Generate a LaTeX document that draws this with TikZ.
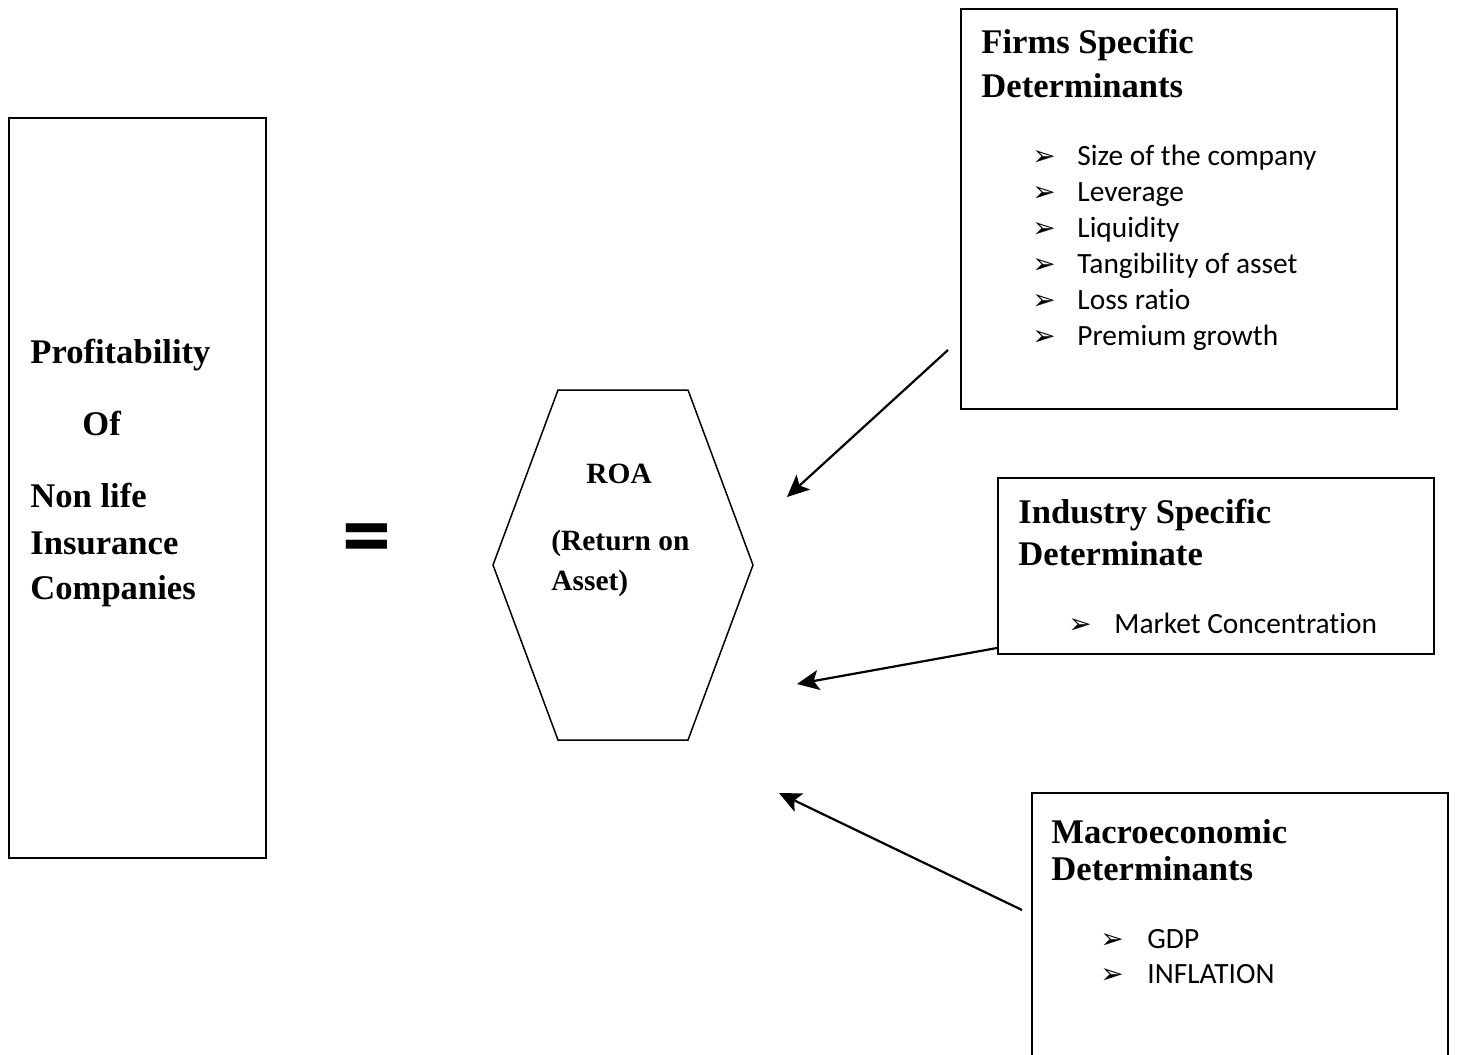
\documentclass[tikz,border=0pt]{standalone}
\usepackage{fontspec}
\setmainfont{Liberation Serif}
\newfontfamily\calfont{Carlito}[RawFeature={-liga}]
\newfontfamily\dvfont{DejaVu Sans}
\usetikzlibrary{arrows.meta}
\tikzset{
  heading/.style={font=\bfseries\fontsize{17.3}{22}\selectfont, anchor=base west, inner sep=0pt},
  lefttext/.style={font=\bfseries\fontsize{17.3}{22}\selectfont, anchor=base west, inner sep=0pt},
  roatext/.style={font=\bfseries\fontsize{14.7}{18}\selectfont, anchor=base west, inner sep=0pt},
  itemtext/.style={font=\calfont\fontsize{14.7}{18}\selectfont, anchor=base west, inner sep=0pt},
  bul/.style={font=\dvfont\fontsize{14}{16}\selectfont, anchor=base west, inner sep=0pt},
  frame/.style={draw, line width=1pt, anchor=north west, inner sep=0pt},
  conn/.style={line width=1.1pt, -{Stealth[length=11pt, width=10pt, inset=2.5pt]}}
}
\begin{document}
\begin{tikzpicture}[x=0.5pt, y=-0.5pt]
\useasboundingbox (0,0) rectangle (1457,1055);
% left box
\node[frame, minimum width=128.5pt, minimum height=370pt] (left) at (8,117) {};
\node[lefttext] (t1) at (30,363) {Profitability};
\node[lefttext] (t2) at (82,435) {Of};
\node[lefttext] (t3) at (30,507) {Non life};
\node[lefttext] (t4) at (30,554) {Insurance};
\node[lefttext] (t5) at (30,599) {Companies};
% equals
\node[font=\calfont\bfseries\fontsize{49}{49}\selectfont, inner sep=0pt] (eq) at (367,546) {=};
% hexagon
\coordinate (h1) at (558,390);
\coordinate (h2) at (688,390);
\coordinate (h3) at (753,565);
\coordinate (h4) at (688,740);
\coordinate (h5) at (558,740);
\coordinate (h6) at (493,565);
\draw[line width=0.75pt] (h1) -- (h2) -- (h3) -- (h4) -- (h5) -- (h6) -- cycle;
\node[roatext] (roa) at (586,483) {ROA};
\node[roatext] (roa2) at (551,550) {(Return on};
\node[roatext] (roa3) at (551,590) {Asset)};
% firms box
\node[frame, minimum width=218pt, minimum height=200pt] (firms) at (960,8) {};
\node[heading] (f1) at (981,53) {Firms Specific};
\node[heading] (f2) at (981,97) {Determinants};
\foreach \y/\t [count=\i] in {165/Size of the company,201/Leverage,237/Liquidity,273/Tangibility of asset,309/Loss ratio,345/Premium growth}{
  \node[bul] (fb\i) at (1032,\y) {➢};
  \node[itemtext] (fi\i) at (1077,\y) {\t};
}
% industry box
\node[frame, minimum width=218pt, minimum height=88pt] (ind) at (997,477) {};
\node[heading] (i1) at (1018,523) {Industry Specific};
\node[heading] (i2) at (1018,565) {Determinate};
\node[bul] (ib1) at (1068,633) {➢};
\node[itemtext] (ii1) at (1114,633) {Market Concentration};
% macro box
\node[frame, minimum width=208pt, minimum height=150pt] (mac) at (1031,792) {};
\node[heading] (m1) at (1051,843) {Macroeconomic};
\node[heading] (m2) at (1051,880) {Determinants};
\node[bul] (mb1) at (1100,948) {➢};
\node[itemtext] (mi1) at (1147,948) {GDP};
\node[bul] (mb2) at (1100,983) {➢};
\node[itemtext] (mi2) at (1147,983) {INFLATION};
% connectors
\coordinate (a1s) at (948,350);
\coordinate (a1e) at (787,497);
\coordinate (a2s) at (997,648);
\coordinate (a2e) at (797,684);
\coordinate (a3s) at (1022,910);
\coordinate (a3e) at (779,793);
\draw[conn] (a1s) -- (a1e);
\draw[conn] (a2s) -- (a2e);
\draw[conn] (a3s) -- (a3e);
\end{tikzpicture}
\end{document}
